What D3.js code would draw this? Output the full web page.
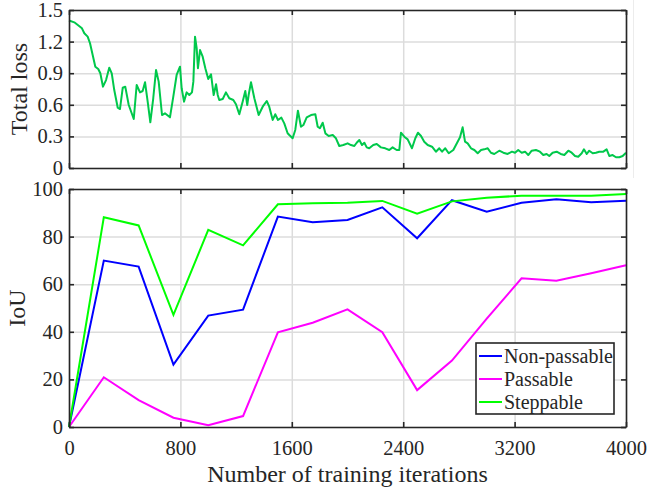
<!DOCTYPE html>
<html>
<head>
<meta charset="utf-8">
<script src="https://cdn.jsdelivr.net/npm/d3@7"></script>
<style>
  body { margin: 0; background: #fff; }
  svg { display: block; font-family: "Liberation Serif", "Times New Roman", serif; }
  .grid line { stroke: #dcdcdc; stroke-width: 1.5; }
  .grid path { display: none; }
  .ax path, .ax line { stroke: #262626; stroke-width: 1.6; }
  .ax text { fill: #262626; font-size: 20.5px; font-family: "Liberation Serif", "Times New Roman", serif; }
</style>
</head>
<body>
<div id="chart"></div>
<script>
// --- data: loss curve ---
const lossIter = [0,38,70,93,110,134,151,170,189,210,225,244,266,289,307,325,350,366,386,404,429,465,486,510,529,546,565,584,605,625,644,668,689,725,749,773,797,809,826,845,864,883,893,905,917,926,941,960,979,1000,1020,1039,1056,1068,1079,1104,1127,1151,1180,1199,1223,1247,1266,1280,1290,1307,1331,1362,1391,1420,1438,1463,1481,1501,1525,1546,1570,1582,1606,1625,1644,1666,1683,1707,1738,1769,1786,1802,1822,1841,1865,1894,1917,1941,1970,2001,2025,2049,2066,2085,2104,2121,2138,2156,2185,2210,2240,2271,2300,2324,2353,2372,2384,2408,2432,2463,2487,2506,2528,2551,2576,2607,2635,2659,2679,2702,2727,2760,2791,2808,2827,2844,2863,2887,2911,2935,2959,2982,3007,3030,3054,3090,3119,3150,3181,3203,3226,3251,3275,3298,3323,3353,3382,3406,3430,3449,3473,3502,3531,3557,3586,3610,3634,3657,3682,3698,3718,3736,3761,3784,3808,3837,3861,3880,3904,3928,3952,3976,4000];
const lossValue = [1.40,1.383,1.351,1.326,1.279,1.247,1.184,1.073,0.962,0.94,0.899,0.772,0.835,0.952,0.899,0.74,0.572,0.56,0.762,0.772,0.598,0.465,0.788,0.718,0.731,0.814,0.63,0.434,0.662,0.93,0.82,0.503,0.519,0.481,0.677,0.883,0.962,0.757,0.63,0.718,0.693,0.718,0.82,1.247,1.136,0.947,1.12,1.057,0.947,0.845,0.89,0.693,0.795,0.693,0.646,0.655,0.718,0.662,0.646,0.605,0.51,0.63,0.731,0.598,0.693,0.814,0.662,0.503,0.582,0.636,0.582,0.456,0.51,0.456,0.478,0.424,0.33,0.313,0.282,0.361,0.544,0.392,0.408,0.481,0.503,0.51,0.392,0.377,0.43,0.329,0.304,0.313,0.282,0.209,0.218,0.234,0.218,0.209,0.24,0.266,0.218,0.24,0.196,0.187,0.218,0.228,0.196,0.187,0.171,0.196,0.171,0.171,0.335,0.297,0.272,0.187,0.282,0.335,0.304,0.25,0.218,0.202,0.155,0.187,0.155,0.187,0.14,0.171,0.25,0.291,0.386,0.25,0.234,0.187,0.171,0.14,0.171,0.177,0.187,0.145,0.133,0.164,0.145,0.133,0.155,0.145,0.171,0.145,0.155,0.123,0.164,0.171,0.155,0.123,0.133,0.114,0.145,0.155,0.133,0.123,0.164,0.145,0.114,0.107,0.14,0.177,0.133,0.164,0.14,0.145,0.155,0.155,0.177,0.114,0.123,0.102,0.102,0.114,0.145];

// --- data: IoU per class ---
const iouIter     = [0,250,500,750,1000,1250,1500,1750,2000,2250,2500,2750,3000,3250,3500,3750,4000];
const nonPassable = [0,69.9,67.4,26.2,46.8,49.3,88.4,86,87,92.3,79.3,95.3,90.5,94.2,95.7,94.4,95.1];
const passable    = [0,20.9,11.3,3.9,0.7,4.6,39.8,43.8,49.4,39.8,15.5,27.9,45.5,62.5,61.5,64.6,68];
const steppable   = [0,88.1,84.7,47.1,82.8,76.3,93.6,94,94.2,95,89.6,94.8,96.3,97.2,97.2,97.2,97.9];

// --- tick labels ---
const xTicks    = [0,800,1600,2400,3200,4000];
const lossTicks = [0,0.3,0.6,0.9,1.2,1.5];
const iouTicks  = [0,20,40,60,80,100];

const series = [
  { name: "Non-passable", values: nonPassable, color: "#0000ff" },
  { name: "Passable",     values: passable,    color: "#ff00ff" },
  { name: "Steppable",    values: steppable,   color: "#00ff00" }
];

// --- sizing ---
const W = 648, H = 491;
const left = 69, right = 626;
const top1 = { y0: 10, y1: 168 };
const top2 = { y0: 189, y1: 427 };

const svg = d3.select("#chart").append("svg")
  .attr("width", W).attr("height", H);

// faint frame edge of the source figure
svg.append("line")
  .attr("x1", 633.5).attr("x2", 633.5).attr("y1", 0).attr("y2", 178)
  .attr("stroke", "#ececec").attr("stroke-width", 1);

const x = d3.scaleLinear().domain([0, 4000]).range([left, right]);
const yLoss = d3.scaleLinear().domain([0, 1.5]).range([top1.y1, top1.y0]);
const yIoU  = d3.scaleLinear().domain([0, 100]).range([top2.y1, top2.y0]);

// grid lines under the data
function grid(y, p, yTicks) {
  const w = right - left, h = p.y1 - p.y0;
  svg.append("g").attr("class", "grid")
    .attr("transform", `translate(0,${p.y1})`)
    .call(d3.axisBottom(x).tickValues(xTicks).tickSize(-h).tickFormat(""));
  svg.append("g").attr("class", "grid")
    .attr("transform", `translate(${left},0)`)
    .call(d3.axisLeft(y).tickValues(yTicks).tickSize(-w).tickFormat(""));
}

// box with inward ticks on all four sides
function frame(y, p, yTicks, yFmt, showX) {
  svg.append("g").attr("class", "ax")
    .attr("transform", `translate(0,${p.y1})`)
    .call(d3.axisBottom(x).tickValues(xTicks).tickSizeInner(-5).tickSizeOuter(0)
      .tickPadding(13).tickFormat(showX ? d3.format("d") : ""));
  svg.append("g").attr("class", "ax")
    .attr("transform", `translate(0,${p.y0})`)
    .call(d3.axisTop(x).tickValues(xTicks).tickSizeInner(-5).tickSizeOuter(0).tickFormat(""));
  svg.append("g").attr("class", "ax")
    .attr("transform", `translate(${left},0)`)
    .call(d3.axisLeft(y).tickValues(yTicks).tickSizeInner(-5).tickSizeOuter(0)
      .tickPadding(6).tickFormat(yFmt));
  svg.append("g").attr("class", "ax")
    .attr("transform", `translate(${right},0)`)
    .call(d3.axisRight(y).tickValues(yTicks).tickSizeInner(-5).tickSizeOuter(0).tickFormat(""));
  svg.selectAll(".ax").attr("font-family", null).attr("font-size", null);
}

// --- top panel: loss ---
grid(yLoss, top1, lossTicks);
const lossData = lossIter.map((it, i) => ({ it, v: lossValue[i] }));
svg.append("path")
  .datum(lossData)
  .attr("fill", "none")
  .attr("stroke", "#00c84b")
  .attr("stroke-width", 2)
  .attr("stroke-linejoin", "round")
  .attr("d", d3.line().x(d => x(d.it)).y(d => yLoss(d.v)));
frame(yLoss, top1, lossTicks, d => d === 0 ? "0" : d3.format(".1f")(d), false);

// --- bottom panel: IoU ---
grid(yIoU, top2, iouTicks);
const iouLine = d3.line().x(d => x(d.it)).y(d => yIoU(d.v));
series.forEach(s => {
  svg.append("path")
    .datum(iouIter.map((it, i) => ({ it, v: s.values[i] })))
    .attr("fill", "none")
    .attr("stroke", s.color)
    .attr("stroke-width", 2)
    .attr("d", iouLine);
});
frame(yIoU, top2, iouTicks, d3.format("d"), true);

// axis titles
svg.append("text")
  .attr("transform", `translate(27,${(top1.y0 + top1.y1) / 2}) rotate(-90)`)
  .attr("text-anchor", "middle")
  .attr("fill", "#262626")
  .style("font-size", "24px")
  .text("Total loss");

svg.append("text")
  .attr("transform", `translate(25,${(top2.y0 + top2.y1) / 2}) rotate(-90)`)
  .attr("text-anchor", "middle")
  .attr("fill", "#262626")
  .style("font-size", "24px")
  .text("IoU");

svg.append("text")
  .attr("x", (left + right) / 2)
  .attr("y", 482)
  .attr("text-anchor", "middle")
  .attr("fill", "#262626")
  .style("font-size", "24px")
  .text("Number of training iterations");

// legend
const lg = svg.append("g").attr("transform", "translate(476,343)");
lg.append("rect")
  .attr("width", 138).attr("height", 71)
  .attr("fill", "#fff").attr("stroke", "#262626").attr("stroke-width", 1.6);
series.forEach((s, i) => {
  const yy = 13 + i * 23;
  lg.append("line")
    .attr("x1", 3).attr("x2", 26).attr("y1", yy).attr("y2", yy)
    .attr("stroke", s.color).attr("stroke-width", 2);
  lg.append("text")
    .attr("x", 28).attr("y", yy).attr("dy", "0.34em")
    .attr("fill", "#262626")
    .style("font-size", "20px")
    .text(s.name);
});
</script>
</body>
</html>
